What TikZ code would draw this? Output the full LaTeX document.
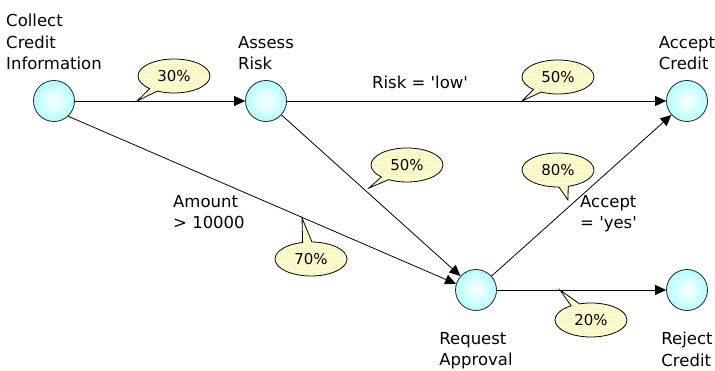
\documentclass[tikz,border=0pt]{standalone}
\usepackage{fontspec}
\setmainfont{DejaVu Sans}[Ligatures=TeXOff]
\usetikzlibrary{positioning,arrows.meta,shapes.callouts,patterns.meta}

\begin{document}
\begin{tikzpicture}[x=1pt,y=-1pt,
  state/.style={circle,draw=black!85,line width=0.8pt,minimum size=41pt,inner sep=0pt,
    shading=radial,inner color=white,outer color=cyan!30},
  txt/.style={align=left,inner sep=0pt,font=\fontsize{16.5}{21.5}\selectfont},
  flow/.style={line width=0.8pt,-{Triangle[length=11pt,width=10pt]}},
  bubble/.style={ellipse callout,draw,line width=0.8pt,minimum width=72pt,minimum height=34pt,
    inner sep=0pt,callout pointer width=9pt,preaction={fill=yellow!40},
    pattern={Lines[distance=2pt,line width=0.7pt]},pattern color=white,
    font=\fontsize{15}{18}\selectfont}]
  \useasboundingbox (0,0) rectangle (715,371);

  \node[state] (collect) at (54,101) {};
  \node[state] (assess) at (266,101) {};
  \node[state] (accept) at (687,101) {};
  \node[state] (request) at (476,290) {};
  \node[state] (reject) at (687,290) {};

  \node[txt,above=10pt of collect] (collectlbl) {Collect\\Credit\\Information};
  \node[txt,above=10pt of assess] (assesslbl) {Assess\\Risk};
  \node[txt,above=10pt of accept] (acceptlbl) {Accept\\Credit};
  \node[txt,below=21pt of request] (requestlbl) {Request\\Approval};
  \node[txt,below=21pt of reject] (rejectlbl) {Reject\\Credit};

  \draw[flow] (collect) -- (assess);
  \draw[flow] (assess) -- (accept);
  \draw[flow] (collect.-47) -- (request.163);
  \draw[flow] (assess) -- (request);
  \draw[flow] (request) -- (accept);
  \draw[flow] (request) -- (reject);

  \node[txt,anchor=north] (risklbl) at (420,76) {Risk = 'low'};
  \node[txt,anchor=north west] (amountlbl) at (173,195) {Amount\\> 10000};
  \node[txt,anchor=north west] (yeslbl) at (580,195) {Accept\\= 'yes'};

  \coordinate (p30) at (137,101);
  \coordinate (p50a) at (522,101);
  \coordinate (p50b) at (369,188);
  \coordinate (p70) at (302,218);
  \coordinate (p80) at (568,200);
  \coordinate (p20) at (560,290);

  \node[bubble,callout absolute pointer={(p30)}] (b30) at (174,76) {30\%};
  \node[bubble,callout absolute pointer={(p50a)}] (b50a) at (558,77) {50\%};
  \node[bubble,callout absolute pointer={(p50b)}] (b50b) at (407,165) {50\%};
  \node[bubble,callout absolute pointer={(p70)}] (b70) at (311,259) {70\%};
  \node[bubble,callout absolute pointer={(p80)}] (b80) at (558,170) {80\%};
  \node[bubble,callout absolute pointer={(p20)}] (b20) at (591,320) {20\%};
\end{tikzpicture}
\end{document}
